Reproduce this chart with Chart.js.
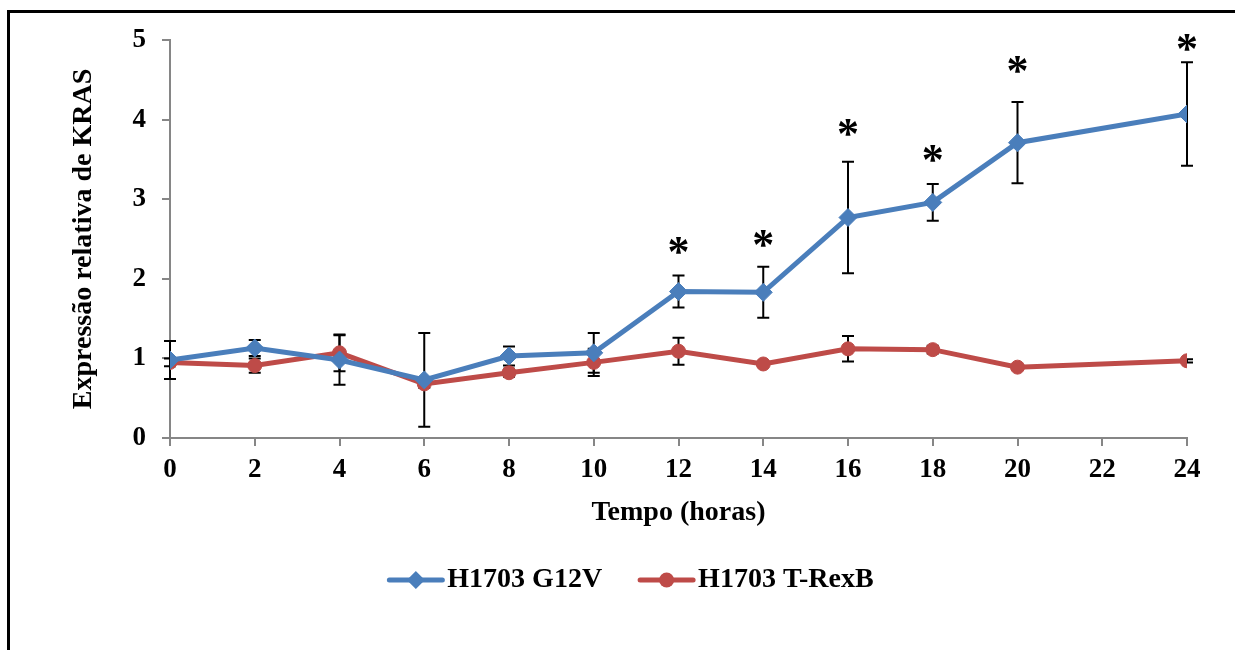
<!DOCTYPE html>
<html lang="pt">
<head>
  <meta charset="UTF-8" />
  <title>Expressão relativa de KRAS</title>
  <style>
    html, body { margin: 0; padding: 0; background: #fff; overflow: hidden; }
    .moldura { position: absolute; left: 7px; top: 10px; width: 1300px; height: 700px; border: 3px solid #000; }
    .caixa { position: absolute; left: 0; top: 0; width: 1235px; height: 650px; }
  </style>
</head>
<body>
  <div class="moldura"></div>
  <div class="caixa"><canvas id="grafico" width="1235" height="650"></canvas></div>

  <script src="https://cdn.jsdelivr.net/npm/chart.js@4.4.0/dist/chart.umd.min.js"></script>
  <script>
    // tempo (horas)
    const tempos = [0, 2, 4, 6, 8, 10, 12, 14, 16, 18, 20, 24];

    // H1703 G12V
    const g12v = [0.98, 1.13, 0.98, 0.73, 1.03, 1.07, 1.84, 1.83, 2.77, 2.96, 3.71, 4.07];
    const g12vErro = [0.24, 0.10, 0.31, 0.59, 0.12, 0.25, 0.20, 0.32, 0.70, 0.23, 0.51, 0.65];

    // H1703 T-RexB
    const trexb = [0.95, 0.91, 1.07, 0.68, 0.82, 0.95, 1.09, 0.93, 1.12, 1.11, 0.89, 0.97];
    const trexbErro = [0.05, 0.09, 0.23, 0.05, 0.05, 0.17, 0.17, 0.02, 0.16, 0.05, 0.02, 0.02];

    // asteriscos de significância
    const asteriscoTempo = [12, 14, 16, 18, 20, 24];
    const asteriscoY = [2.42, 2.51, 3.90, 3.57, 4.69, 4.97];

    const yTicks = [0, 1, 2, 3, 4, 5];

    const AZUL = '#4A7EBB';
    const VERMELHO = '#BE4B48';
    const CINZA = '#868686';
    const FONTE = '"Liberation Serif", "Times New Roman", serif';

    function pontos(valores) {
      return tempos.map((t, i) => ({ x: t, y: valores[i] }));
    }

    const errosPorSerie = [g12vErro, trexbErro];

    const barrasErro = {
      id: 'barrasErro',
      beforeDatasetsDraw(chart) {
        const ctx = chart.ctx;
        const xs = chart.scales.x, ys = chart.scales.y;
        ctx.save();
        ctx.strokeStyle = '#000';
        ctx.lineWidth = 2;
        chart.data.datasets.forEach((ds, d) => {
          const erros = errosPorSerie[d];
          ds.data.forEach((p, i) => {
            const e = erros[i];
            if (!e) return;
            const x = xs.getPixelForValue(p.x);
            const y1 = ys.getPixelForValue(p.y + e);
            const y2 = ys.getPixelForValue(p.y - e);
            ctx.beginPath();
            ctx.moveTo(x, y1); ctx.lineTo(x, y2);
            ctx.moveTo(x - 6, y1); ctx.lineTo(x + 6, y1);
            ctx.moveTo(x - 6, y2); ctx.lineTo(x + 6, y2);
            ctx.stroke();
          });
        });
        ctx.restore();
      }
    };

    const asteriscos = {
      id: 'asteriscos',
      afterDatasetsDraw(chart) {
        const ctx = chart.ctx;
        const xs = chart.scales.x, ys = chart.scales.y;
        ctx.save();
        ctx.fillStyle = '#000';
        ctx.font = 'bold 44px ' + FONTE;
        ctx.textAlign = 'center';
        ctx.textBaseline = 'alphabetic';
        const m = ctx.measureText('*');
        const meio = (m.actualBoundingBoxAscent - m.actualBoundingBoxDescent) / 2;
        asteriscoTempo.forEach((t, i) => {
          ctx.fillText('*', xs.getPixelForValue(t), ys.getPixelForValue(asteriscoY[i]) + meio);
        });
        ctx.restore();
      }
    };

    const legenda = {
      id: 'legenda',
      afterDraw(chart) {
        const ctx = chart.ctx;
        const itens = chart.data.datasets;
        const linha = 57, folga = 3, entre = 36, centro = 630.5, y = 580;
        ctx.save();
        ctx.font = 'bold 28px ' + FONTE;
        const larg = itens.map(ds => ctx.measureText(ds.label).width);
        let total = 0;
        larg.forEach((w, i) => { total += linha + folga + w + (i ? entre : 0); });
        let x = centro - total / 2;
        itens.forEach((ds, i) => {
          ctx.strokeStyle = ds.borderColor;
          ctx.lineWidth = 5;
          ctx.lineCap = 'round';
          ctx.beginPath();
          ctx.moveTo(x + 2, y); ctx.lineTo(x + linha - 2, y);
          ctx.stroke();
          const cx = x + linha / 2;
          ctx.fillStyle = ds.borderColor;
          ctx.beginPath();
          if (ds.pointStyle === 'rectRot') {
            ctx.moveTo(cx - 9, y); ctx.lineTo(cx, y - 9); ctx.lineTo(cx + 9, y); ctx.lineTo(cx, y + 9);
            ctx.closePath();
          } else {
            ctx.arc(cx, y, 7.5, 0, Math.PI * 2);
          }
          ctx.fill();
          ctx.fillStyle = '#000';
          ctx.textAlign = 'left';
          ctx.textBaseline = 'middle';
          ctx.fillText(ds.label, x + linha + folga, y);
          x += linha + folga + larg[i] + entre;
        });
        ctx.restore();
      }
    };

    new Chart(document.getElementById('grafico'), {
      type: 'line',
      data: {
        datasets: [
          {
            label: 'H1703 G12V',
            data: pontos(g12v),
            borderColor: AZUL,
            backgroundColor: AZUL,
            borderWidth: 5,
            pointStyle: 'rectRot',
            pointRadius: 9,
            pointBorderWidth: 1,
            tension: 0
          },
          {
            label: 'H1703 T-RexB',
            data: pontos(trexb),
            borderColor: VERMELHO,
            backgroundColor: VERMELHO,
            borderWidth: 5,
            pointStyle: 'circle',
            pointRadius: 7,
            pointBorderWidth: 1,
            tension: 0
          }
        ]
      },
      options: {
        responsive: false,
        animation: false,
        devicePixelRatio: 1,
        layout: { padding: { top: 40, right: 48, bottom: 116, left: 0 } },
        plugins: {
          legend: { display: false },
          tooltip: { enabled: false }
        },
        scales: {
          x: {
            type: 'linear',
            min: 0,
            max: 24,
            ticks: {
              stepSize: 2,
              color: '#000',
              padding: 8,
              font: { family: FONTE, size: 27, weight: 'bold' }
            },
            grid: { drawOnChartArea: false, color: CINZA, lineWidth: 2, tickLength: 8 },
            border: { color: CINZA, width: 2 },
            title: {
              display: true,
              text: 'Tempo (horas)',
              color: '#000',
              padding: { top: 2, bottom: 4 },
              font: { family: FONTE, size: 28, weight: 'bold' }
            }
          },
          y: {
            min: 0,
            max: 5,
            afterFit(scale) { scale.width = 170; },
            afterBuildTicks(scale) { scale.ticks = yTicks.map(v => ({ value: v })); },
            ticks: {
              color: '#000',
              padding: 16,
              font: { family: FONTE, size: 27, weight: 'bold' }
            },
            grid: { drawOnChartArea: false, color: CINZA, lineWidth: 2, tickLength: 8 },
            border: { color: CINZA, width: 2 },
            title: {
              display: true,
              text: 'Expressão relativa de KRAS',
              color: '#000',
              padding: { top: 67, bottom: 0 },
              font: { family: FONTE, size: 28, weight: 'bold' }
            }
          }
        }
      },
      plugins: [barrasErro, asteriscos, legenda]
    });
  </script>
</body>
</html>
